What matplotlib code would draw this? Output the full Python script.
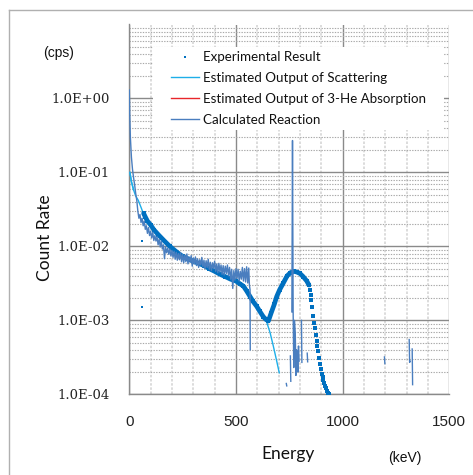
import numpy as np
import matplotlib
matplotlib.use("Agg")
import matplotlib.pyplot as plt
from matplotlib.ticker import FixedLocator, FixedFormatter, MultipleLocator
from matplotlib.lines import Line2D
from matplotlib.patches import Rectangle

nan = float("nan")

# ---------------- data ----------------
# Experimental result (keV, cps)
exp_energy = [67, 75, 85, 100, 115, 136, 160, 190, 220, 250, 275, 300, 325, 350, 375,
              400, 425, 450, 475, 500, 520, 535, 550, 566, 580, 597, 612, 628, 640, 652,
              665, 680, 691, 705, 722, 740, 755, 771, 785, 800, 815, 832, 842,
              846, 850, 854, 858, 862, 866, 870, 874, 878, 882, 886, 890, 894, 898,
              902, 906, 910, 914, 918, 922, 926, 930, 934]
exp_rate = [0.028, 0.025, 0.022, 0.0195, 0.0168, 0.0144, 0.0122, 0.0100, 0.0085, 0.0073,
            0.0068, 0.0063, 0.0059, 0.0055, 0.0050, 0.0046, 0.0042, 0.0039, 0.0036,
            0.0034, 0.0031, 0.0029, 0.0025, 0.0021, 0.0018, 0.00155, 0.00132, 0.00112,
            0.00103, 0.00098, 0.00126, 0.00166, 0.0021, 0.0026, 0.0032, 0.0040, 0.0044,
            0.0046, 0.0045, 0.0043, 0.0039, 0.0034, 0.0030,
            0.0026, 0.0022, 0.0019, 0.0015, 0.00115, 0.00092, 0.00078, 0.00063, 0.00052,
            0.00045, 0.00038, 0.00031, 0.00026, 0.00022, 0.00019, 0.00017, 0.000155,
            0.00014, 0.00013, 0.00012, 0.000112, 0.000105, 0.0001]
# isolated experimental points
exp_out_energy = [58, 61]
exp_out_rate = [0.0015, 0.012]

# Estimated output of scattering
scat_energy = [3, 10, 20, 30, 42, 58, 67, 100, 136, 190, 250, 300, 350, 400, 450, 500,
               535, 560, 580, 600, 620, 644, 660, 675, 690, 703]
scat_rate = [0.10, 0.075, 0.058, 0.048, 0.042, 0.032, 0.027, 0.0195, 0.0144, 0.0100,
             0.0073, 0.0063, 0.0055, 0.0046, 0.0039, 0.0034, 0.0028, 0.0023, 0.0019,
             0.0016, 0.00125, 0.00095, 0.00068, 0.00045, 0.00029, 0.000195]

# Estimated output of 3-He absorption (not visible in the plotted range)
abs_energy = []
abs_rate = []

# Calculated reaction (NaN separates isolated channel groups)
calc_energy = [0, 2, 5, 8, 10, 15, 20, 25, 30, 35, 40, 45, 50, 55, 60, 65, 70, 75, 80, 85,
               90, 95, 100, 105, 110, 115, 120, 125, 130, 135, 140, 145, 150, 155, 160,
               165, 170, 175, 180, 185, 190, 195, 200, 205, 210, 215, 220, 225, 230, 235,
               240, 245, 250, 255, 260, 265, 270, 275, 280, 285, 290, 295, 300, 305, 310,
               315, 320, 325, 330, 335, 340, 345, 350, 355, 360, 365, 370, 375, 380, 385,
               390, 395, 400, 405, 410, 415, 420, 425, 430, 435, 440, 445, 450, 455, 460,
               465, 470, 475, 480, 485, 490, 495, 500, 505, 510, 515, 520, 525, 530, 535,
               540, 545, 550, 555, 560, 563, 566, 567, nan,
               736, 738, nan,
               755, 757, nan,
               762, 765, 768, 771, 774, 778, 781, 784, 787, 790, 793, 796, nan,
               807, 809, nan,
               834, 836, nan,
               1196, 1198, nan,
               1312, 1314, 1316, nan,
               1326, 1328]
calc_rate = [1.3, 0.6, 0.3, 0.2, 0.16, 0.11, 0.085, 0.068, 0.052, 0.042, 0.030, 0.024,
             0.027, 0.021, 0.024, 0.019, 0.022, 0.017, 0.019, 0.015, 0.018, 0.014, 0.016,
             0.013, 0.0155, 0.012, 0.014, 0.0118, 0.0135, 0.0105, 0.0125, 0.0098, 0.0118,
             0.0092, 0.0105, 0.0068, 0.0098, 0.0082, 0.0095, 0.0078, 0.0092, 0.0074,
             0.0088, 0.0071, 0.0086, 0.0067, 0.0083, 0.0065, 0.0080, 0.0066, 0.0082,
             0.0062, 0.0078, 0.0060, 0.0076, 0.0062, 0.0079, 0.0058, 0.0072, 0.0061,
             0.0075, 0.0054, 0.0070, 0.0058, 0.0072, 0.0055, 0.0068, 0.0052, 0.0066,
             0.0056, 0.0071, 0.0053, 0.0065, 0.0050, 0.0064, 0.0052, 0.0067, 0.0049,
             0.0061, 0.0047, 0.0060, 0.0050, 0.0063, 0.0046, 0.0058, 0.0044, 0.0059,
             0.0045, 0.0056, 0.0042, 0.0055, 0.0041, 0.0054, 0.0043, 0.0056, 0.0040,
             0.0052, 0.0036, 0.0049, 0.0027, 0.0047, 0.0035, 0.0050, 0.0037, 0.0049,
             0.0034, 0.0046, 0.0036, 0.0052, 0.0034, 0.0050, 0.0033, 0.0053, 0.0032,
             0.0051, 0.0030, 0.0026, 0.0004, nan,
             0.00014, 0.00013, nan,
             0.00033, 0.00015, nan,
             0.0013, 0.27, 0.0013, 0.00023, 0.0010, 0.00068, 0.00018, 0.0004, 0.00035,
             0.0002, 0.00045, 0.00028, nan,
             0.0010, 0.00027, nan,
             0.00036, 0.000275, nan,
             0.00032, 0.00026, nan,
             0.00055, 0.00027, 0.00028, nan,
             0.00041, 0.000135]

series_labels = ["Experimental Result", "Estimated Output of Scattering",
                 "Estimated Output of 3-He Absorption", "Calculated Reaction"]
x_ticks = [0, 500, 1000, 1500]
x_tick_labels = ["0", "500", "1000", "1500"]
y_ticks = [1e-4, 1e-3, 1e-2, 1e-1, 1e0]
y_tick_labels = ["1.0E-04", "1.0E-03", "1.0E-02", "1.0E-01", "1.0E+00"]

# ---------------- styles ----------------
C_EXP = "#0070C0"
C_SCAT = "#1EAEE8"
C_ABS = "#E8262A"
C_CALC = "#4A7EBF"
SANS = ["Lato", "DejaVu Sans"]
ARIAL = ["Liberation Sans", "DejaVu Sans"]
SERIF = ["DejaVu Serif"]

W, H = 473, 475
fig = plt.figure(figsize=(W / 100, H / 100), dpi=100)
fig.patch.set_facecolor("white")

def fx(px):
    return px / W

def fy(py):
    return 1 - py / H

ax_l, ax_r, ax_t, ax_b = 129.3, 449.3, 24.5, 394.3
ax = fig.add_axes([fx(ax_l), fy(ax_b), (ax_r - ax_l) / W, (ax_b - ax_t) / H])
ax.set_facecolor("white")
ax.set_xscale("linear")
ax.set_yscale("log")
ax.set_xlim(0, 1500)
ax.set_ylim(1e-4, 10)

ax.xaxis.set_major_locator(FixedLocator(x_ticks))
ax.xaxis.set_major_formatter(FixedFormatter(x_tick_labels))
ax.xaxis.set_minor_locator(MultipleLocator(100))
ax.yaxis.set_major_locator(FixedLocator(y_ticks))
ax.yaxis.set_major_formatter(FixedFormatter(y_tick_labels))
minor_y = [m * 10.0 ** e for e in range(-4, 1) for m in range(2, 10)]
ax.yaxis.set_minor_locator(FixedLocator(minor_y))
ax.yaxis.set_minor_formatter(FixedFormatter([""] * len(minor_y)))

ax.grid(which="major", color="#8a8a8a", linewidth=1.0, linestyle="-", zorder=0)
ax.grid(which="minor", axis="y", color="#a8a8a8", linewidth=0.8,
        linestyle=(0, (1.2, 1.2)), zorder=0)
ax.grid(which="minor", axis="x", color="#d6d6d6", linewidth=1.2,
        linestyle=(0, (1.5, 1.0)), zorder=0)
ax.set_axisbelow(True)

for s in ["top", "right"]:
    ax.spines[s].set_visible(False)
for s in ["left", "bottom"]:
    ax.spines[s].set_color("#8a8a8a")
    ax.spines[s].set_linewidth(1.0)

ax.tick_params(which="both", length=0)
ax.tick_params(axis="y", pad=14)
ax.tick_params(axis="x", pad=15)
for t in ax.get_yticklabels():
    t.set_fontfamily(SERIF)
    t.set_fontsize(9.5)
    t.set_color("#222222")
for t in ax.get_xticklabels():
    t.set_fontfamily(ARIAL)
    t.set_fontsize(11)
    t.set_color("#222222")

# white legend area covering the grid
lx0, lx1, ly0, ly1 = 153, 444, 47, 130
ax.add_patch(Rectangle(((lx0 - ax_l) / (ax_r - ax_l), (ax_b - ly1) / (ax_b - ax_t)),
                       (lx1 - lx0) / (ax_r - ax_l), (ly1 - ly0) / (ax_b - ax_t),
                       transform=ax.transAxes, facecolor="white", edgecolor="none",
                       zorder=1))

# ---------------- series ----------------
ax.plot(scat_energy, scat_rate, color=C_SCAT, linewidth=1.0, zorder=3)
ax.plot(abs_energy, abs_rate, color=C_ABS, linewidth=1.0, zorder=3)
ax.plot(exp_energy[:43], exp_rate[:43], color=C_EXP, linewidth=3.4, zorder=4,
        solid_capstyle="round")
ax.plot(exp_energy, exp_rate, linestyle="none", marker="s", markersize=2.2,
        color=C_EXP, markeredgewidth=0, zorder=4)
ax.plot(exp_out_energy, exp_out_rate, linestyle="none", marker="s", markersize=2.0,
        color=C_EXP, markeredgewidth=0, zorder=4)
ax.plot(calc_energy, calc_rate, color=C_CALC, linewidth=1.0, zorder=5)
ax.plot(scat_energy[:3], scat_rate[:3], color=C_SCAT, linewidth=1.0, zorder=6)

# ---------------- legend ----------------
handles = [
    Line2D([], [], linestyle="none", marker="s", markersize=2.0, color=C_EXP,
           markeredgewidth=0),
    Line2D([], [], color=C_SCAT, linewidth=1.0),
    Line2D([], [], color=C_ABS, linewidth=1.0),
    Line2D([], [], color=C_CALC, linewidth=1.0),
]
leg = ax.legend(handles, series_labels, loc="upper left",
                bbox_to_anchor=((170 - ax_l) / (ax_r - ax_l), (ax_b - 50) / (ax_b - ax_t)),
                frameon=False, prop={"family": SANS, "size": 9.6},
                handlelength=2.1, handletextpad=0.25, labelspacing=0.66,
                borderaxespad=0, borderpad=0.1)
leg.set_zorder(7)
for t in leg.get_texts():
    t.set_color("#111111")

# ---------------- labels ----------------
fig.text(fx(59), fy(53), "(cps)", family=ARIAL, fontsize=10, ha="center", va="center",
         color="#111111")
fig.text(fx(45), fy(238), "Count Rate", family=SANS, fontsize=12.5, rotation=90,
         ha="center", va="center", color="#111111")
fig.text(fx(288), fy(454), "Energy", family=SANS, fontsize=12.5, ha="center",
         va="center", color="#111111")
fig.text(fx(405), fy(458), "(keV)", family=ARIAL, fontsize=10, ha="center",
         va="center", color="#111111")

# outer chart border (left and top edges)
fig.add_artist(Line2D([fx(8.5), fx(8.5)], [fy(10), fy(476)], color="#b0b0b0",
                      linewidth=1.0, transform=fig.transFigure))
fig.add_artist(Line2D([fx(8.5), fx(471.5)], [fy(10), fy(10)], color="#b0b0b0",
                      linewidth=1.0, transform=fig.transFigure))

fig.savefig("out.png", dpi=100, facecolor="white")
